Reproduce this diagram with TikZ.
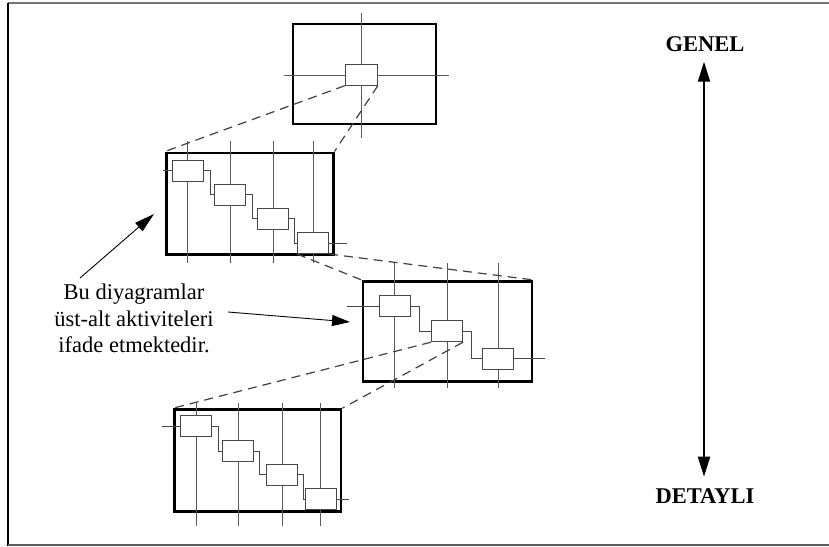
\documentclass[tikz,border=0pt]{standalone}
\usepackage{fontspec}
\setmainfont{Liberation Serif}
\usetikzlibrary{arrows.meta}

\begin{document}
\begin{tikzpicture}[x=1pt,y=-1pt,
  frame/.style={draw=black, line width=2.9pt, inner sep=0pt},
  act/.style={draw=black!72, fill=white, line width=1pt, inner sep=0pt,
              minimum width=31pt, minimum height=21pt},
  gridline/.style={draw=black!65, line width=1pt},
  link/.style={draw=black!72, line width=1pt},
  zoomline/.style={draw=black!75, line width=1.2pt, dash pattern=on 9pt off 6pt},
  pointer/.style={draw=black, line width=0.9pt, -{Triangle[length=20pt,width=11pt]}},
  scale arrow/.style={draw=black, line width=2pt,
    {Triangle[length=20pt,width=12pt]}-{Triangle[length=20pt,width=12pt]}},
  label/.style={font=\fontsize{22.5}{25}\selectfont\bfseries, inner sep=0pt, anchor=base}
]
\useasboundingbox (0,0) rectangle (829,546);

% page frame
\draw[black!55, line width=1.5pt] (8,3) -- (829,3);
\draw[black, line width=1.3pt] (8,3) -- (8,546);
\draw[black!65, line width=1.3pt] (8,545) -- (829,545);

% ---------- level 1 (overview) ----------
\node[frame, minimum width=143pt, minimum height=100pt] (f1) at (364.5,74) {};
\coordinate (c1) at (361.3,74.7);
\draw[gridline] (c1 |- 0,13) -- (c1 |- 0,138);
\draw[gridline] (284,75) -- (449,75);
\node[act, minimum width=32pt] (b1) at (c1) {};

% ---------- level 2 ----------
\node[frame, minimum width=166.7pt, minimum height=101.7pt] (f2) at (249.7,203.8) {};
\coordinate (c21) at (187.8,170.5);
\coordinate (c22) at (230,194.5);
\coordinate (c23) at (273.3,218.8);
\coordinate (c24) at (313,243);
\foreach \c in {c21,c22,c23,c24}
  \draw[gridline] (\c |- 0,141) -- (\c |- 0,263);
\foreach \c [count=\i] in {c21,c22,c23,c24}
  \node[act] (b2\i) at (\c) {};
\coordinate (s2in) at (162.7,170.5);
\coordinate (s2out) at (346.7,243);
\draw[link] (s2in) -- (b21.west);
\draw[link] (b21.east) -- ++(6.5,0) |- (b22.west);
\draw[link] (b22.east) -- ++(6,0) |- (b23.west);
\draw[link] (b23.east) -- ++(5,0) |- (b24.west);
\draw[link] (b24.east) -- (s2out);

% ---------- level 3 ----------
\node[frame, minimum width=169pt, minimum height=100pt] (f3) at (447.5,331.4) {};
\coordinate (c31) at (394.7,306.2);
\coordinate (c32) at (447,331.2);
\coordinate (c33) at (498,358.8);
\foreach \c in {c31,c32,c33}
  \draw[gridline] (\c |- 0,263) -- (\c |- 0,388);
\foreach \c [count=\i] in {c31,c32,c33}
  \node[act] (b3\i) at (\c) {};
\coordinate (s3in) at (346.7,306.2);
\coordinate (s3out) at (545,358.8);
\draw[link] (s3in) -- (b31.west);
\draw[link] (b31.east) -- ++(8.5,0) |- (b32.west);
\draw[link] (b32.east) -- ++(8.5,0) |- (b33.west);
\draw[link] (b33.east) -- (s3out);

% ---------- level 4 (detail) ----------
\node[frame, minimum width=166.4pt, minimum height=101.8pt] (f4) at (257.8,460.5) {};
\coordinate (c41) at (196.2,426.2);
\coordinate (c42) at (238,451.2);
\coordinate (c43) at (282,474.7);
\coordinate (c44) at (320.5,499.3);
\foreach \c in {c41,c42,c43,c44}
  \draw[gridline] (\c |- 0,403) -- (\c |- 0,526);
\foreach \c [count=\i] in {c41,c42,c43,c44}
  \node[act] (b4\i) at (\c) {};
\coordinate (s4in) at (161.7,426.2);
\coordinate (s4out) at (349,499.3);
\draw[link] (s4in) -- (b41.west);
\draw[link] (b41.east) -- ++(6,0) |- (b42.west);
\draw[link] (b42.east) -- ++(5,0) |- (b43.west);
\draw[link] (b43.east) -- ++(5.4,0) |- (b44.west);
\draw[link] (b44.east) -- (s4out);

% ---------- zoom projections ----------
\draw[zoomline] (b1.south west) -- (f2.north west);
\draw[zoomline] (b1.south east) -- (f2.north east);
\draw[zoomline] (b24.south west) -- (f3.north west);
\draw[zoomline] (b24.south east) -- (f3.north east);
\draw[zoomline] (b32.south west) -- (f4.north west);
\draw[zoomline] (b32.south east) -- (f4.north east);

% ---------- annotation ----------
\node[font=\fontsize{22.5}{26.5}\selectfont, align=center, inner sep=0pt] (note) at (134,318.8)
  {Bu diyagramlar\\üst-alt aktiviteleri\\ifade etmektedir.};
\coordinate (p1s) at (80,278);
\coordinate (p1e) at (154,214);
\coordinate (p2s) at (228,312);
\coordinate (p2e) at (350,322);
\draw[pointer] (p1s) -- (p1e);
\draw[pointer, -{Triangle[length=18pt,width=11pt]}] (p2s) -- (p2e);

% ---------- level-of-detail scale ----------
\node[label] (gen) at (705,51.7) {GENEL};
\node[label] (det) at (705,503.3) {DETAYLI};
\coordinate (top) at (704,61.7);
\coordinate (bot) at (704,476.7);
\draw[scale arrow] (top) -- (bot);
\end{tikzpicture}
\end{document}
